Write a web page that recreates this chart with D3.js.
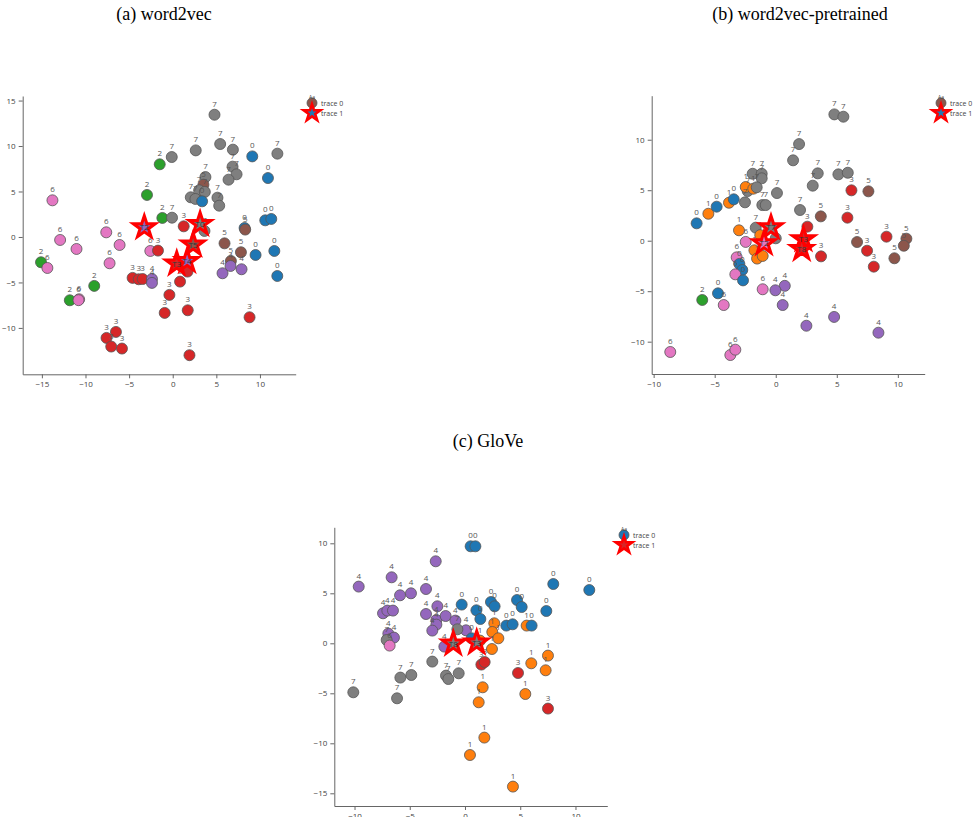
<!DOCTYPE html>
<html>
<head>
<meta charset="utf-8">
<style>
  body { margin: 0; background: #fff; }
  svg { display: block; }
  .title { font-family: 'Liberation Serif', 'Times New Roman', serif; font-size: 18px; fill: #000; }
  .axis path, .axis line { stroke: #666; }
  .axis text { font-family: 'Open Sans', sans-serif; font-size: 8px; fill: #444; }
  .plabel { font-family: 'Open Sans', sans-serif; font-size: 8px; fill: #555; }
  .slabel { font-family: 'Open Sans', sans-serif; font-size: 8px; fill: #333; }
  .legend text { font-family: 'Open Sans', sans-serif; font-size: 7px; fill: #444; }
</style>
</head>
<body>
<svg width="976" height="817"></svg>

<script src="https://d3js.org/d3.v7.min.js"></script>
<script>
// class colours (tab10)
const classColors = ["#1f77b4", "#ff7f0e", "#2ca02c", "#d62728", "#9467bd", "#8c564b", "#e377c2", "#7f7f7f"];

// (a) word2vec : [x, y, class]
const pointsA = [
  [4.79,13.44,7],[5.44,10.22,7],[6.9,9.6,7],[2.64,9.52,7],[-0.11,8.79,7],[12.0,9.16,7],
  [9.12,8.86,0],[-1.49,7.99,2],[6.86,7.73,7],[7.32,6.89,7],[6.4,6.3,7],[3.75,6.59,7],
  [3.52,5.75,5],[10.92,6.48,0],[3.03,5.13,7],[3.68,4.95,7],[2.07,4.36,7],[2.6,4.18,7],
  [3.37,3.92,0],[5.13,4.32,7],[5.33,3.44,7],[-2.95,4.62,2],[-13.79,4.03,6],[-1.19,2.09,2],
  [-0.08,2.12,7],[1.26,1.17,3],[10.61,1.83,0],[11.3,1.98,0],[8.24,0.99,0],[8.31,0.81,5],
  [3.64,0.66,7],[-12.91,-0.33,6],[-11.03,-1.32,6],[-7.62,0.51,6],[-6.09,-0.88,6],
  [-7.24,-2.89,6],[-2.57,-1.54,6],[-1.69,-1.5,3],[-15.1,-2.78,2],[-14.37,-3.41,6],
  [-4.6,-4.5,3],[-3.9,-4.65,3],[-3.45,-4.62,3],[-2.38,-4.62,4],[-2.38,-5.05,4],
  [-9.0,-5.38,2],[-11.8,-6.96,2],[-10.73,-6.85,6],[-10.8,-6.95,6],[0.84,-4.91,3],
  [1.69,-3.81,3],[-0.38,-6.37,3],[-0.92,-8.35,3],[1.72,-8.06,3],[8.81,-8.83,3],
  [-7.59,-11.1,3],[-6.51,-10.44,3],[-7.05,-12.05,3],[-5.82,-12.27,3],[1.92,-13.0,3],
  [5.94,-0.7,5],[7.82,-1.68,5],[6.67,-2.64,5],[5.71,-3.99,4],[6.63,-3.19,4],[7.89,-3.55,4],
  [9.5,-1.98,0],[11.65,-1.54,0],[11.99,-4.29,0]
];
// stars : [x, y, class, text]
const starsA = [
  [-3.26,1.06,4,"T2"],[3.14,1.43,7,"T0"],[2.34,-0.84,5,"T5"],[0.46,-2.93,3,"T3"],[1.65,-2.64,4,"T4"]
];

// (b) word2vec-pretrained
const pointsB = [
  [-6.48,1.72,0],[-5.52,2.67,1],[-4.84,3.37,0],[-3.83,3.76,1],[-3.44,4.1,0],[-2.52,3.8,7],
  [-2.3,4.92,7],[-2.46,5.32,1],[-1.84,5.15,1],[-1.89,6.63,7],[-1.15,6.63,7],[-1.15,6.18,7],
  [-1.56,5.29,7],[0.1,4.72,7],[-1.1,3.53,7],[-0.82,3.53,7],[1.42,7.96,7],[1.91,9.57,7],
  [1.99,3.04,7],[-3.01,1.03,1],[-1.64,1.29,7],[4.8,12.51,7],[5.54,12.28,7],[3.44,6.67,7],
  [3.03,5.45,7],[5.13,6.57,7],[5.9,6.73,7],[6.2,4.99,3],[7.59,4.89,5],[3.69,2.41,5],
  [5.87,2.28,3],[2.59,1.39,3],[9.07,0.4,3],[10.7,0.2,5],[6.66,-0.13,5],[7.48,-0.99,3],
  [10.49,-0.5,5],[9.72,-1.74,5],[8.03,-2.57,3],[3.71,-1.55,3],[0.74,-4.47,4],[0.57,-6.37,4],
  [-0.03,-4.91,4],[2.51,-8.42,4],[4.78,-7.55,4],[8.41,-9.11,4],[-4.73,-5.21,0],[-6.02,-5.87,2],
  [-4.26,-6.37,6],[-8.64,-11.02,6],[-3.72,-11.32,6],[-3.31,-10.79,6],[-1.07,-4.81,6],
  [-2.46,-0.12,6],[-3.2,-1.65,6],[-2.98,-2.3,0],[-2.74,-2.9,0],[-3.31,-3.33,6],[-2.68,-3.93,0],
  [-1.75,-0.95,1],[-1.53,-1.77,1],[-1.07,-1.51,1],[-1.27,0.55,1],[0,0.24,7]
];
const starsB = [
  [-0.39,1.32,7,"T7"],[-0.96,-0.26,6,"T2"],[2.27,0.14,3,"T3"],[2.13,-0.82,3,"T8"]
];

// (c) GloVe
const pointsC = [
  [0.51,9.7,0],[0.94,9.7,0],[-2.65,8.2,4],[-9.62,5.67,4],[-6.64,6.6,4],[-5.88,4.8,4],
  [-4.89,5.0,4],[-3.53,5.43,4],[-7.42,3.0,4],[-7.03,3.27,4],[-6.52,3.27,4],[-2.5,3.7,4],
  [-3.53,2.93,4],[-2.59,2.33,4],[-2.59,1.87,4],[-2.96,1.27,4],[-1.75,2.73,4],[-0.87,2.27,4],
  [0.09,1.3,4],[-6.94,0.97,4],[-6.43,0.57,4],[-7.09,0.33,7],[-6.82,-0.23,6],[-1.87,-0.33,4],
  [-0.69,1.4,7],[-0.3,3.87,0],[1.03,3.3,0],[1.39,2.43,0],[2.35,4.13,0],[2.68,3.7,0],
  [4.71,4.33,0],[5.13,3.63,0],[7.99,5.93,0],[11.25,5.33,0],[7.36,3.23,0],[3.74,1.77,0],
  [4.31,1.9,0],[5.58,1.77,1],[6.03,1.77,0],[0.6,0.5,0],[2.65,2.0,1],[2.47,1.13,1],
  [3.02,0.5,1],[1.36,0.27,1],[2.44,-0.57,1],[1.48,-2.13,3],[1.78,-1.87,3],[4.8,-2.97,3],
  [7.51,-6.53,3],[7.51,-1.23,1],[6.0,-2.0,1],[7.3,-2.7,1],[5.46,-5.07,1],[1.6,-4.4,1],
  [1.24,-5.9,1],[1.75,-9.43,1],[0.45,-11.17,1],[4.34,-14.33,1],[-10.11,-4.9,7],
  [-6.15,-5.5,7],[-5.85,-3.43,7],[-4.86,-3.17,7],[-2.96,-1.83,7],[-1.72,-3.23,7],
  [-1.51,-3.57,7],[-0.57,-3.0,7]
];
const starsC = [
  [-1.06,-0.03,7,"T8"],[1.06,0.07,7,"T3"]
];

const ticksA = { x: [-15, -10, -5, 0, 5, 10], y: [-10, -5, 0, 5, 10, 15] };
const ticksB = { x: [-10, -5, 0, 5, 10], y: [-10, -5, 0, 5, 10] };
const ticksC = { x: [-10, -5, 0, 5, 10], y: [-15, -10, -5, 0, 5, 10] };

const legendLabels = ["trace 0", "trace 1"];

let svg = d3.select("svg");

function drawPanel(p) {
  let x = d3.scaleLinear().domain(p.xDomain).range([p.left, p.right]);
  let y = d3.scaleLinear().domain(p.yDomain).range([p.bottom, p.top]);

  svg.append("text").attr("class", "title")
    .attr("x", p.titleX).attr("y", p.titleY)
    .attr("text-anchor", "middle").text(p.title);

  svg.append("g").attr("class", "axis")
    .attr("transform", `translate(0,${p.bottom})`)
    .call(d3.axisBottom(x).tickValues(p.ticks.x).tickSize(4).tickSizeOuter(0).tickPadding(3));

  svg.append("g").attr("class", "axis")
    .attr("transform", `translate(${p.left},0)`)
    .call(d3.axisLeft(y).tickValues(p.ticks.y).tickSize(4).tickSizeOuter(0).tickPadding(3));

  let g = svg.append("g");
  g.selectAll("circle").data(p.points).join("circle")
    .attr("cx", d => x(d[0])).attr("cy", d => y(d[1]))
    .attr("r", 5.5)
    .attr("fill", d => classColors[d[2]])
    .attr("stroke", "#555").attr("stroke-width", 0.8);

  g.selectAll("text.plabel").data(p.points).join("text")
    .attr("class", "plabel")
    .attr("x", d => x(d[0])).attr("y", d => y(d[1]) - 8)
    .attr("text-anchor", "middle").text(d => d[2]);

  let star = d3.symbol().type(d3.symbolStar).size(150);
  let sg = svg.append("g");
  sg.selectAll("path").data(p.stars).join("path")
    .attr("transform", d => `translate(${x(d[0])},${y(d[1])})`)
    .attr("d", star)
    .attr("fill", d => classColors[d[2]])
    .attr("stroke", "#ff0000").attr("stroke-width", 3).attr("stroke-linejoin", "miter");
  sg.selectAll("text").data(p.stars).join("text")
    .attr("class", "slabel")
    .attr("x", d => x(d[0])).attr("y", d => y(d[1]) + 3)
    .attr("text-anchor", "middle").text(d => d[3]);

  // legend
  let lg = svg.append("g").attr("class", "legend")
    .attr("transform", `translate(${p.legendX},${p.legendY})`);
  lg.append("circle").attr("cx", 0).attr("cy", 0).attr("r", 5)
    .attr("fill", classColors[p.legendColor]).attr("stroke", "#555").attr("stroke-width", 0.8);
  lg.append("text").attr("x", 0).attr("y", -4).attr("text-anchor", "middle")
    .style("font-size", "5px").text("Aa");
  lg.append("path").attr("transform", "translate(0,10)")
    .attr("d", d3.symbol().type(d3.symbolStar).size(90))
    .attr("fill", classColors[p.legendStar]).attr("stroke", "#ff0000").attr("stroke-width", 2.5);
  lg.selectAll("text.lt").data(legendLabels).join("text")
    .attr("class", "lt").attr("x", 9).attr("y", (d, i) => i * 10 + 2.5).text(d => d);
}

drawPanel({
  title: "(a) word2vec", titleX: 164, titleY: 20,
  left: 22.7, right: 295.7, top: 96, bottom: 374.3,
  xDomain: [-17.2, 14.1], yDomain: [-15.1, 15.5], ticks: ticksA,
  points: pointsA, stars: starsA,
  legendX: 312, legendY: 103, legendColor: 5, legendStar: 0
});
drawPanel({
  title: "(b) word2vec-pretrained", titleX: 800, titleY: 20,
  left: 651.7, right: 924.7, top: 95.7, bottom: 374,
  xDomain: [-10.16, 12.2], yDomain: [-13.2, 14.36], ticks: ticksB,
  points: pointsB, stars: starsB,
  legendX: 941, legendY: 103, legendColor: 5, legendStar: 0
});
drawPanel({
  title: "(c) GloVe", titleX: 488, titleY: 447,
  left: 334.3, right: 607.3, top: 527.3, bottom: 806,
  xDomain: [-11.83, 12.88], yDomain: [-16.27, 11.6], ticks: ticksC,
  points: pointsC, stars: starsC,
  legendX: 624, legendY: 535, legendColor: 0, legendStar: 3
});
</script>
</body>
</html>
